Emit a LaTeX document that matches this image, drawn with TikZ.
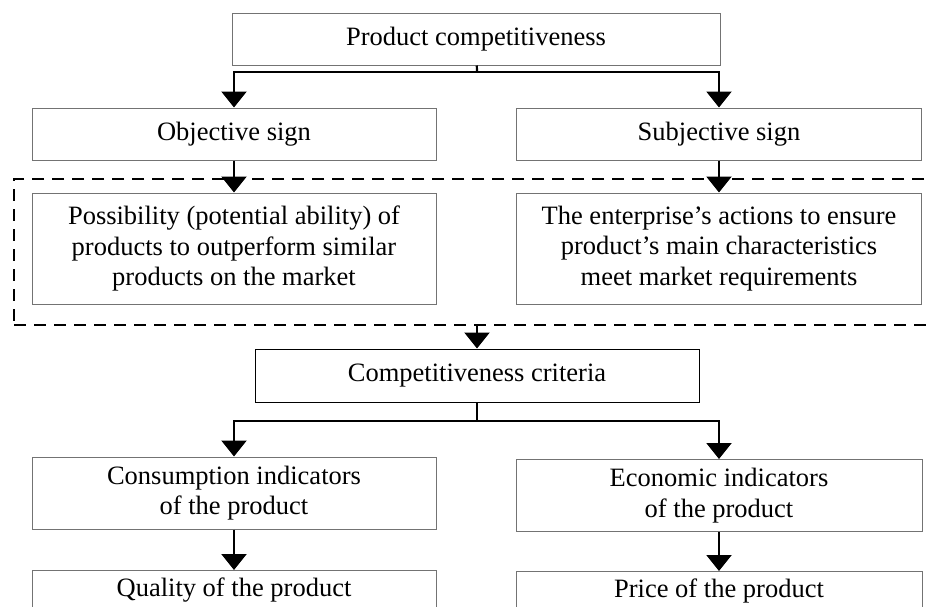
\documentclass[tikz,border=0pt]{standalone}
\usepackage{fontspec}
\setmainfont{Liberation Serif}
\usetikzlibrary{positioning,arrows.meta}

\begin{document}
\begin{tikzpicture}%
  [x=1pt,y=-1pt,
   sign/.style=
    {draw=black!55,line width=1pt,minimum height=52pt,align=center,
     inner sep=0pt,font=\fontsize{26.5}{30.5}\selectfont},
   notion/.style=
    {sign,minimum height=111pt},
   indicator/.style=
    {sign,minimum height=72pt},
   group/.style={draw,line width=2pt,dash pattern=on 12pt off 8pt,
     minimum width=932pt,minimum height=146pt,anchor=north west,inner sep=0pt},
   flow/.style={line width=2.2pt,-{Triangle[width=25pt,length=16pt]}},
   link/.style={line width=2.2pt}
  ]
  \useasboundingbox (0,0) rectangle (931,606);
  \clip (0,0) rectangle (931,606);
  % top level
  \node[sign,minimum width=488pt] (prod) at (476,39) {Product competitiveness};
  \node[sign,minimum width=404pt] (obj) at (234,134) {Objective sign};
  \node[sign,minimum width=405pt] (subj) at (719,134) {Subjective sign};
  \coordinate (split1) at (477,72);
  \draw[link] (prod) -- (split1);
  \draw[flow] (split1) -| (obj);
  \draw[flow] (split1) -| (subj);
  % dashed group
  \node[group] (grp) at (13,178) {};
  \node[notion,minimum width=404pt] (poss) at (234,248.5)
    {Possibility (potential ability) of\\products to outperform similar\\products on the market};
  \node[notion,minimum width=405pt] (act) at (719,248.5)
    {The enterprise's actions to ensure\\product's main characteristics\\meet market requirements};
  \draw[flow] (obj) -- (poss);
  \draw[flow] (subj) -- (act);
  % criteria
  \node[sign,draw=black,minimum width=444pt,minimum height=53pt] (crit) at (477,375.5)
    {Competitiveness criteria};
  \draw[flow] (grp.south -| crit) -- (crit);
  \coordinate (split2) at (477,421);
  \draw[link] (crit) -- (split2);
  \node[indicator,minimum width=404pt] (cons) at (234,493)
    {Consumption indicators\\of the product};
  \node[indicator,minimum width=406pt] (econ) at (719,495.5)
    {Economic indicators\\of the product};
  \draw[flow] (split2) -| (cons);
  \draw[flow] (split2) -| (econ);
  \node[indicator,minimum width=404pt,anchor=north] (qual) at (234,570)
    {Quality of the product\\\strut};
  \node[indicator,minimum width=406pt,anchor=north] (price) at (719,571)
    {Price of the product\\\strut};
  \draw[flow] (cons) -- (qual);
  \draw[flow] (econ) -- (price);
\end{tikzpicture}
\end{document}
